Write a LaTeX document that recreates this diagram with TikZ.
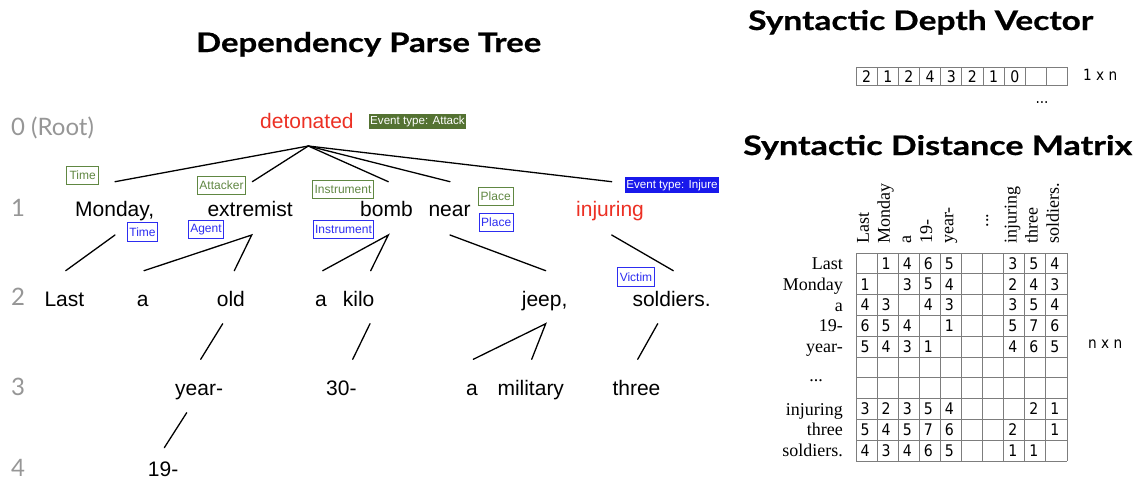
\documentclass[tikz,border=0pt]{standalone}
\usepackage{fontspec}
\usepackage{graphicx}
\setmainfont{Liberation Serif}
\newfontfamily\helv{Liberation Sans}
\newfontfamily\dig[FakeStretch=0.88]{DejaVu Sans}
\newfontfamily\ttl[BoldFeatures={FakeBold=0.6}]{Lato}
\newfontfamily\lvlfont{Lato}
\definecolor{wred}{RGB}{236,48,36}
\definecolor{lvlgray}{RGB}{150,150,150}
\definecolor{labgreen}{RGB}{96,135,66}
\definecolor{evgreen}{RGB}{84,114,50}
\definecolor{labblue}{RGB}{45,45,240}
\definecolor{evblue}{RGB}{25,25,235}
\definecolor{gridgray}{RGB}{125,125,125}
\newcommand{\ttlbox}[3]{\resizebox{#1}{#2}{\ttl\bfseries\fontsize{24}{28}\selectfont #3}}
\begin{document}
\begin{tikzpicture}[x=1pt,y=-1pt,
 word/.style={anchor=base west,inner sep=0pt,font=\helv\fontsize{21}{25}\selectfont},
 rword/.style={word,text=wred},
 lvl/.style={anchor=base west,inner sep=0pt,text=lvlgray,font=\lvlfont\fontsize{24}{28}\selectfont},
 conn/.style={line width=1.3pt,line cap=round},
 glab/.style={draw=labgreen,text=labgreen,line width=0.9pt,inner sep=0pt,font=\helv\fontsize{12}{14}\selectfont},
 blab/.style={draw=labblue,text=labblue,line width=0.9pt,inner sep=0pt,font=\helv\fontsize{12}{14}\selectfont},
 evlab/.style={inner sep=0pt,text=white,font=\helv\fontsize{11.6}{13}\selectfont},
 title/.style={anchor=base west,inner sep=0pt},
 rowlab/.style={anchor=base east,inner sep=0pt,font=\fontsize{18}{20}\selectfont},
 collab/.style={anchor=mid west,rotate=90,inner sep=0pt,font=\fontsize{18}{20}\selectfont},
 dg/.style={inner sep=0pt,font=\dig\fontsize{16}{18}\selectfont},
 gridline/.style={draw=gridgray,line width=0.9pt},
 dimlab/.style={anchor=base west,inner sep=0pt,font=\dig\fontsize{15.5}{18}\selectfont}
]
\useasboundingbox (0,0) rectangle (1137,485);

% titles
\node[title] (tDep) at (196,52) {\ttlbox{345pt}{20pt}{Dependency Parse Tree}};
\node[title] (tVec) at (748,30) {\ttlbox{345pt}{20pt}{Syntactic Depth Vector}};
\node[title] (tMat) at (743,155) {\ttlbox{389pt}{20pt}{Syntactic Distance Matrix}};

% level labels
\node[lvl] (l0) at (11,135) {0 (Root)};
\node[lvl] (l1) at (11,216.5) {1};
\node[lvl] (l2) at (11,305.5) {2};
\node[lvl] (l3) at (11,395) {3};
\node[lvl] (l4) at (11,476.5) {4};

% words
\node[rword] (detonated) at (260,128) {detonated};
\node[word] (monday) at (75,216.7) {Monday,};
\node[word] (extremist) at (207.3,216.7) {extremist};
\node[word] (bomb) at (360,216.7) {bomb};
\node[word] (near) at (428.3,216.7) {near};
\node[rword] (injuring) at (576,216.7) {injuring};
\node[word] (last) at (44.3,306) {Last};
\node[word] (a1) at (136.7,306) {a};
\node[word] (old) at (216.7,306) {old};
\node[word] (a2) at (315,306) {a};
\node[word] (kilo) at (342.7,306) {kilo};
\node[word] (jeep) at (521.7,306) {jeep,};
\node[word] (soldiers) at (632.3,306) {soldiers.};
\node[word] (year) at (175,395) {year-};
\node[word] (thirty) at (326,395) {30-};
\node[word] (a3) at (466,395) {a};
\node[word] (military) at (497.3,395) {military};
\node[word] (three) at (612.3,395) {three};
\node[word] (nineteen) at (147.7,476.7) {19-};

% role labels
\node[evlab,fill=evgreen,minimum width=97pt,minimum height=15.5pt] (evA) at (417.5,121.7) {Event type: Attack};
\node[evlab,fill=evblue,minimum width=94.7pt,minimum height=16pt] (evI) at (672,185.3) {Event type: Injure};
\node[glab,minimum width=32pt,minimum height=18pt] (gTime) at (82.7,175) {Time};
\node[glab,minimum width=48.4pt,minimum height=18pt] (gAtt) at (221.5,185) {Attacker};
\node[glab,minimum width=61pt,minimum height=18pt] (gIns) at (343,189.7) {Instrument};
\node[glab,minimum width=34.7pt,minimum height=18pt] (gPla) at (495.7,196.7) {Place};
\node[blab,minimum width=29.6pt,minimum height=18.3pt] (bTime) at (142.5,231.8) {Time};
\node[blab,minimum width=34.6pt,minimum height=18.3pt] (bAg) at (206,229.2) {Agent};
\node[blab,minimum width=59.6pt,minimum height=18.3pt] (bIns) at (343.5,229.2) {Instrument};
\node[blab,minimum width=34.3pt,minimum height=18.3pt] (bPla) at (496.2,222.5) {Place};
\node[blab,minimum width=36.6pt,minimum height=18.3pt] (bVic) at (636,276.8) {Victim};

% connector end points
\coordinate (r0) at (308.3,146);
\coordinate (monT) at (115,181.7);
\coordinate (extT) at (252.3,181.7);
\coordinate (bomT) at (388.3,181.7);
\coordinate (neaT) at (450,181.7);
\coordinate (injT) at (611.7,181.7);
\coordinate (monB) at (115,235);
\coordinate (extB) at (251.7,235);
\coordinate (bomB) at (388.3,235);
\coordinate (neaB) at (450,235);
\coordinate (injB) at (611.7,235);
\coordinate (lasT) at (65.7,270.7);
\coordinate (a1T) at (144,270.7);
\coordinate (oldT) at (234.3,270.7);
\coordinate (a2T) at (322.7,270.7);
\coordinate (kilT) at (370.7,270.7);
\coordinate (jeeT) at (545.7,270.7);
\coordinate (solT) at (673.3,270.7);
\coordinate (oldB) at (222.7,323.7);
\coordinate (kilB) at (370,323.7);
\coordinate (jeeB) at (545.7,323.7);
\coordinate (solB) at (657.7,323.7);
\coordinate (yeaT) at (200.7,359.3);
\coordinate (thiT) at (352.7,359.3);
\coordinate (a3T) at (473.3,359.3);
\coordinate (milT) at (531.7,359.3);
\coordinate (thrT) at (637.7,359.3);
\coordinate (yeaB) at (186.7,412.7);
\coordinate (ninT) at (164.3,447.7);

\draw[conn] (r0) -- (monT);
\draw[conn] (r0) -- (extT);
\draw[conn] (r0) -- (bomT);
\draw[conn] (r0) -- (neaT);
\draw[conn] (r0) -- (injT);
\draw[conn] (monB) -- (lasT);
\draw[conn] (a1T) -- (extB) -- (oldT);
\draw[conn] (a2T) -- (bomB) -- (kilT);
\draw[conn] (neaB) -- (jeeT);
\draw[conn] (injB) -- (solT);
\draw[conn] (oldB) -- (yeaT);
\draw[conn] (kilB) -- (thiT);
\draw[conn] (a3T) -- (jeeB) -- (milT);
\draw[conn] (solB) -- (thrT);
\draw[conn] (yeaB) -- (ninT);

% depth vector
\foreach \i in {0,...,10} \draw[gridline] ({856+21.17*\i},67.7) -- ({856+21.17*\i},85.7);
\draw[gridline] (856,67.7) -- (1067.7,67.7) (856,85.7) -- (1067.7,85.7);
\foreach \v [count=\i] in {2,1,2,4,3,2,1,0} \node[dg] (v\i) at ({856+21.17*(\i-0.5)},76.7) {\v};
\node[dimlab] (dim1) at (1083,80.5) {1 x n};
\node[dimlab,anchor=base] (vdots) at (1042,103) {...};

% distance matrix grid
\foreach \i in {0,...,10} \draw[gridline] ({856+21.1*\i},253) -- ({856+21.1*\i},461);
\foreach \j in {0,...,10} \draw[gridline] (856,{253+20.8*\j}) -- (1067,{253+20.8*\j});

% row labels
\foreach \t [count=\r] in {Last,Monday,a,19-,year-} \node[rowlab] (rl\r) at (843,{253+20.8*(\r-0.5)+6}) {\t};
\foreach \t/\r in {injuring/8,three/9,soldiers./10} \node[rowlab] (rl\r) at (843,{253+20.8*(\r-0.5)+6}) {\t};
\node[rowlab,anchor=base] (rldots) at (816,381) {...};

% column labels
\foreach \t/\c in {Last/1,Monday/2,a/3,19-/4,year-/5,injuring/8,three/9,soldiers./10} \node[collab] (cl\c) at ({856+21.1*(\c-0.5)},244) {\t};
\node[collab,anchor=base] (cldots) at (988,220.5) {...};

% matrix values
\foreach \r/\vals in {
  1/{2/1,3/4,4/6,5/5,8/3,9/5,10/4},
  2/{1/1,3/3,4/5,5/4,8/2,9/4,10/3},
  3/{1/4,2/3,4/4,5/3,8/3,9/5,10/4},
  4/{1/6,2/5,3/4,5/1,8/5,9/7,10/6},
  5/{1/5,2/4,3/3,4/1,8/4,9/6,10/5},
  8/{1/3,2/2,3/3,4/5,5/4,9/2,10/1},
  9/{1/5,2/4,3/5,4/7,5/6,8/2,10/1},
  10/{1/4,2/3,3/4,4/6,5/5,8/1,9/1}}
  {\foreach \c/\v in \vals
     \node[dg] (m-\r-\c) at ({856+21.1*(\c-0.5)-1.5},{253+20.8*(\r-0.5)}) {\v};}

\node[dimlab] (dim2) at (1088,348) {n x n};
\end{tikzpicture}
\end{document}
